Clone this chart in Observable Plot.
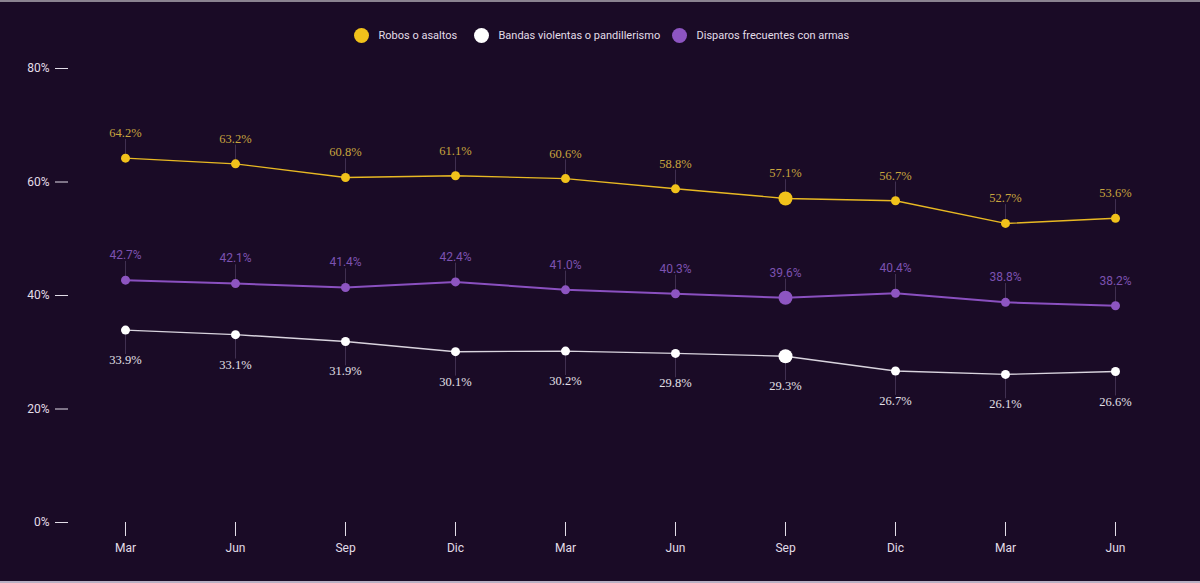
<!DOCTYPE html>
<html>
<head>
<meta charset="utf-8">
<script src="https://cdn.jsdelivr.net/npm/d3@7"></script>
<script src="https://cdn.jsdelivr.net/npm/@observablehq/plot@0.6"></script>
<style>
  html, body { margin: 0; padding: 0; background: #1a0b26; }
  body { width: 1200px; height: 583px; overflow: hidden; box-sizing: border-box; border-top: 2px solid #8a8390; border-bottom: 2px solid #b9b0c4; }
  #legend { position: relative; height: 48px; font-family: Roboto, sans-serif; font-size: 11px; color: #e2dde8; }
  .item { position: absolute; top: 26px; display: flex; align-items: center; }
  .dot { width: 15px; height: 15px; border-radius: 50%; margin-right: 10px; }
  svg { display: block; }
</style>
</head>
<body>
<div id="legend"></div>
<div id="chart"></div>
<script>
const periods = ["Mar", "Jun", "Sep", "Dic", "Mar", "Jun", "Sep", "Dic", "Mar", "Jun"];
const seriesNames = ["Robos o asaltos", "Bandas violentas o pandillerismo", "Disparos frecuentes con armas"];
const robos = [64.2, 63.2, 60.8, 61.1, 60.6, 58.8, 57.1, 56.7, 52.7, 53.6];
const bandas = [33.9, 33.1, 31.9, 30.1, 30.2, 29.8, 29.3, 26.7, 26.1, 26.6];
const disparos = [42.7, 42.1, 41.4, 42.4, 41.0, 40.3, 39.6, 40.4, 38.8, 38.2];
const yTicks = [0, 20, 40, 60, 80];
const highlightIndex = 6;

const colors = {
  "Robos o asaltos": {line: "#e8b923", dot: "#f1c21b", label: "#c9a53e", width: 1.4, dy: -25, conn: 3.3, size: 12.5, font: "'Liberation Serif', 'DejaVu Serif', serif"},
  "Bandas violentas o pandillerismo": {line: "#d9d4de", dot: "#ffffff", label: "#e4e0e8", width: 1.4, dy: 30, conn: -4.3, size: 12.5, font: "'Liberation Serif', 'DejaVu Serif', serif"},
  "Disparos frecuentes con armas": {line: "#8a50c0", dot: "#8d55c1", label: "#7c52b0", width: 2, dy: -25, conn: 3.3, size: 12, font: "Roboto, sans-serif"}
};

const allValues = [robos, bandas, disparos];
const data = [];
seriesNames.forEach((s, si) => {
  allValues[si].forEach((v, i) => data.push({series: s, i, value: v, big: i === highlightIndex}));
});

// legend
const legend = document.getElementById("legend");
const legendX = [353.5, 473.5, 671.5];
seriesNames.forEach((s, k) => {
  const d = document.createElement("div");
  d.className = "item";
  d.style.left = legendX[k] + "px";
  d.innerHTML = `<span class="dot" style="background:${colors[s].dot}"></span><span>${s}</span>`;
  legend.appendChild(d);
});

const marks = [];
seriesNames.forEach(s => {
  const c = colors[s];
  const rows = data.filter(d => d.series === s);
  marks.push(Plot.ruleX(rows, {x: "i", y1: "value", y2: d => d.value + c.conn, stroke: "#4a3a5c", strokeWidth: 0.8}));
});
seriesNames.forEach(s => {
  const c = colors[s];
  const rows = data.filter(d => d.series === s);
  marks.push(Plot.line(rows, {x: "i", y: "value", stroke: c.line, strokeWidth: c.width}));
});
seriesNames.forEach(s => {
  const c = colors[s];
  const rows = data.filter(d => d.series === s);
  marks.push(Plot.dot(rows, {x: "i", y: "value", r: d => d.big ? 7 : 4.5, fill: c.dot, stroke: "none"}));
  marks.push(Plot.text(rows, {
    x: "i", y: "value", text: d => d.value.toFixed(1) + "%",
    dy: c.dy, fill: c.label, fontSize: c.size, fontFamily: c.font
  }));
});

const chart = Plot.plot({
  width: 1200,
  height: 531,
  marginTop: 18,
  marginBottom: 59,
  marginLeft: 124,
  marginRight: 84,
  style: {background: "transparent", fontFamily: "Roboto, sans-serif", fontSize: "12px", color: "#e2dde8"},
  x: {type: "point", domain: d3.range(periods.length), padding: 0},
  y: {domain: [0, 80]},
  r: {type: "identity"},
  marks: [
    Plot.axisY({ticks: yTicks, tickFormat: d => d + "%", tickSize: 13, tickPadding: 6, dx: -56, stroke: "#e2dde8", fill: "#e2dde8", label: null}),
    Plot.axisX({tickFormat: i => periods[i], tickSize: 14, tickPadding: 7, stroke: "#e2dde8", fill: "#e2dde8", label: null}),
    ...marks
  ]
});
document.getElementById("chart").appendChild(chart);
</script>
</body>
</html>
